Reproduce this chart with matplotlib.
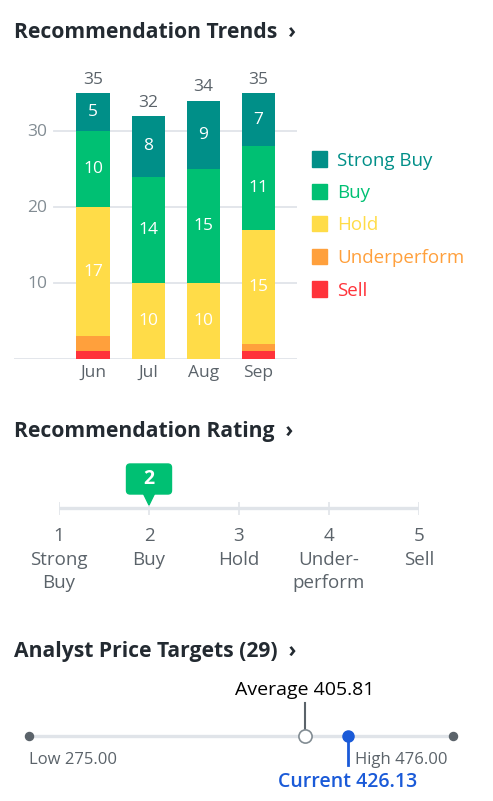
import matplotlib
matplotlib.use("Agg")
import matplotlib.pyplot as plt
from matplotlib.patches import Rectangle, FancyBboxPatch, Polygon

plt.rcParams['font.family'] = ['Open Sans', 'DejaVu Sans']

W, H = 493, 801

# recommendation trends
months = ["Jun", "Jul", "Aug", "Sep"]
categories = ["Strong Buy", "Buy", "Hold", "Underperform", "Sell"]
strong_buy = [5, 8, 9, 7]
buy = [10, 14, 15, 11]
hold = [17, 10, 10, 15]
underperform = [2, 0, 0, 1]
sell = [1, 0, 0, 1]
colors = ["#008f88", "#00c073", "#ffdc48", "#ffa03c", "#ff333a"]
y_ticks = [10, 20, 30]

# recommendation rating
rating = 2
rating_pos = [1, 2, 3, 4, 5]
rating_names = ["Strong\nBuy", "Buy", "Hold", "Under-\nperform", "Sell"]

# price targets
n_analysts = 29
low, high = 275.00, 476.00
average = 405.81
current = 426.13

GRID = "#e0e4e9"
DARK = "#232a31"
GREY = "#5b636a"
BLUE = "#1a5ad8"


def px(x, y):
    return x / W, 1 - y / H


fig = plt.figure(figsize=(W / 100, H / 100), dpi=100)

# titles
for ty, title in [(32, "Recommendation Trends  ›"),
                  (432, "Recommendation Rating  ›"),
                  (652, f"Analyst Price Targets ({n_analysts})  ›")]:
    fig.text(*px(14, ty), title, fontsize=15.2, fontweight="bold", color=DARK,
             ha="left", va="center")

# ---- stacked bars
ax = fig.add_axes([14 / W, 1 - 359 / H, 283 / W, 299 / H])
ax.set_xlim(-1.432, 3.698)
ax.set_ylim(0, 299 / 7.6)
ax.axis("off")
for t in y_ticks:
    ax.axhline(t, xmin=40 / 283, xmax=1, color=GRID, lw=1.3, zorder=0)
    ax.annotate(str(t), xy=(40 / 283, t), xycoords=("axes fraction", "data"),
                xytext=(-5, -1), textcoords="offset points",
                ha="right", va="center", fontsize=12.5, color="#828c93")
ax.axhline(0, color=GRID, lw=1.3, zorder=0)

series = [sell, underperform, hold, buy, strong_buy]
series_colors = colors[::-1]
x = range(len(months))
bottom = [0] * len(months)
for vals, col in zip(series, series_colors):
    ax.bar(x, vals, bottom=bottom, width=0.6, color=col, zorder=2)
    for i, v in enumerate(vals):
        if v > 2:
            ax.text(i, bottom[i] + v / 2, str(v), ha="center", va="center",
                    color="white", fontsize=12.5, zorder=3)
    bottom = [b + v for b, v in zip(bottom, vals)]

for i, tot in enumerate(bottom):
    ax.annotate(str(tot), xy=(i, tot), xytext=(0, 9.5), textcoords="offset points",
                ha="center", va="center", fontsize=12.5, color=GREY)
    ax.annotate(months[i], xy=(i, 0), xytext=(0, -10), textcoords="offset points",
                ha="center", va="center", fontsize=12.5, color=GREY)

# legend
for k, (name, col) in enumerate(zip(categories, colors)):
    cy = 159 + k * 32.5
    fig.add_artist(Rectangle(px(312, cy + 7.5), 15 / W, 15 / H, color=col,
                             transform=fig.transFigure))
    fig.text(*px(337, cy + 1.5), name, color=col, fontsize=13.5, ha="left", va="center")

# ---- rating scale
ax2 = fig.add_axes([59 / W, 1 - 600 / H, 360 / W, 150 / H])
ax2.set_xlim(1, 5)
ax2.set_ylim(600, 450)
ax2.axis("off")
ax2.plot([rating_pos[0], rating_pos[-1]], [508, 508], color=GRID, lw=2.4,
         solid_capstyle="butt")
ax2.vlines(rating_pos, 502, 515, color=GRID, lw=1.2)
for p, name in zip(rating_pos, rating_names):
    ax2.text(p, 536, str(p), ha="center", va="center", fontsize=13.5, color=GREY,
             clip_on=False)
    ax2.text(p, 551, name, ha="center", va="top", fontsize=13.5, color=GREY,
             linespacing=1.38, clip_on=False)

hw = 22.5 / 90
badge = FancyBboxPatch((rating - hw, 464), 2 * hw, 30,
                       boxstyle="round,pad=0,rounding_size=0.04",
                       mutation_aspect=90, color="#00c073", zorder=3)
ax2.add_patch(badge)
ax2.add_patch(Polygon([(rating - 0.065, 493), (rating + 0.065, 493), (rating, 505)],
                      closed=True, color="#00c073", zorder=3))
ax2.text(rating, 479, str(rating), ha="center", va="center", color="white",
         fontsize=14, fontweight="bold", zorder=4)

# ---- price targets
ax3 = fig.add_axes([29 / W, 1 - 795 / H, 424 / W, 120 / H])
ax3.set_xlim(low, high)
ax3.set_ylim(795, 675)
ax3.axis("off")
ax3.plot([low, high], [736, 736], color=GRID, lw=2.4, zorder=1)
ax3.plot([low, high], [736, 736], "o", color=GREY, ms=5.8, zorder=2, clip_on=False)
ax3.plot([average, average], [703, 729], color=GREY, lw=1.5, zorder=2)
ax3.plot([average], [736], "o", mfc="white", mec="#828c93", mew=1.2, ms=9.5, zorder=3)
ax3.plot([current, current], [736, 765], color=BLUE, lw=2, zorder=2)
ax3.plot([current], [736], "o", color=BLUE, ms=8, zorder=3)

ax3.text(average, 690, f"Average {average:.2f}", ha="center", va="center",
         fontsize=14, color="#000000", clip_on=False)
ax3.text(low, 760, f"Low {low:.2f}", ha="left", va="center",
         fontsize=12, color=GREY, clip_on=False)
ax3.annotate(f"High {high:.2f}", xy=(high, 760), xytext=(-4, 0),
             textcoords="offset points", ha="right", va="center",
             fontsize=12, color=GREY)
ax3.text(current, 782, f"Current {current:.2f}", ha="center", va="center",
         fontsize=14, color=BLUE, fontweight="semibold", clip_on=False)

fig.savefig("out.png", dpi=100)
